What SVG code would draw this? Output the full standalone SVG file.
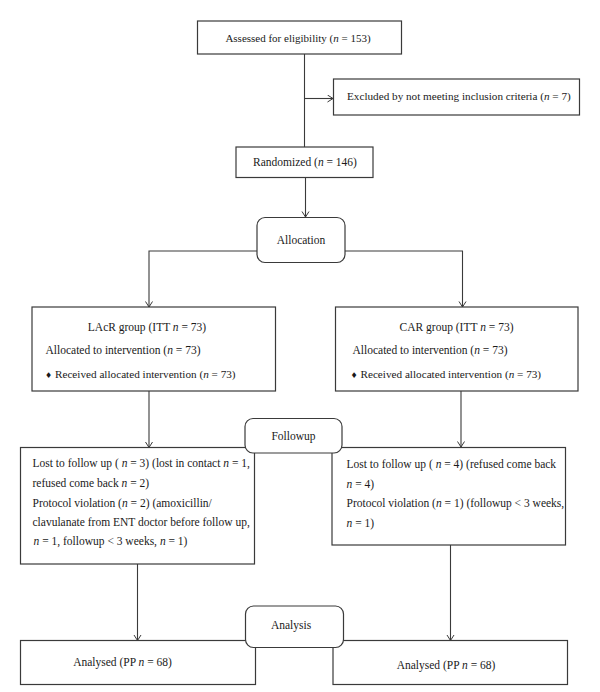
<svg xmlns="http://www.w3.org/2000/svg" width="600" height="692" viewBox="0 0 600 692">
<style>
.box{fill:#fff;stroke:#3a3a3a;stroke-width:1.2}
.rbox{fill:#fff;stroke:#3a3a3a;stroke-width:1.2}
.c{fill:none;stroke:#3a3a3a;stroke-width:1.1;marker-end:url(#ah)}
.cl{fill:none;stroke:#3a3a3a;stroke-width:1.1}
text{font-family:"Liberation Serif","Times New Roman",serif;font-size:11.5px;fill:#1a1a1a}
.m{text-anchor:middle}
.i{font-style:italic}
.d{font-family:"DejaVu Sans",sans-serif;font-size:8px}
.s{font-size:11px}
.s2{font-size:11.2px}
</style>
<defs>
<marker id="ah" markerUnits="userSpaceOnUse" markerWidth="10" markerHeight="10" refX="6" refY="4" orient="auto">
<path d="M0.5,0.5 L6,4 L0.5,7.5" fill="none" stroke="#3a3a3a" stroke-width="1"/>
</marker>
</defs>
<g id="connectors">
<line class="cl" x1="304.5" y1="54" x2="304.5" y2="147"/>
<line class="c" x1="304.5" y1="98.5" x2="333" y2="98.5"/>
<line class="c" x1="305.5" y1="177" x2="305.5" y2="217"/>
<polyline class="c" points="257,251 149,251 149,307"/>
<polyline class="c" points="345,251 462.5,251 462.5,307"/>
<line class="c" x1="149" y1="391" x2="149" y2="447.5"/>
<line class="c" x1="461" y1="391" x2="461" y2="447"/>
<line class="c" x1="137.5" y1="564" x2="137.5" y2="640.5"/>
<line class="c" x1="450.5" y1="545" x2="450.5" y2="640.5"/>
</g>
<g id="assessed">
<rect class="box" x="197.5" y="21" width="204" height="33"/>
<text class="m s" x="298" y="42">Assessed for eligibility (<tspan class="i">n</tspan> = 153)</text>
</g>
<g id="excluded">
<rect class="box" x="333.5" y="79" width="246" height="36"/>
<text class="s2" x="347" y="100">Excluded by not meeting inclusion criteria (<tspan class="i">n</tspan> = 7)</text>
</g>
<g id="randomized">
<rect class="box" x="236" y="147" width="137" height="30.5"/>
<text class="m" x="305" y="166">Randomized (<tspan class="i">n</tspan> = 146)</text>
</g>
<g id="allocation">
<rect class="rbox" x="257" y="217.5" width="88" height="45" rx="8"/>
<text class="m" x="301" y="243.5">Allocation</text>
</g>
<g id="lacr">
<rect class="box" x="32" y="307" width="243.5" height="84"/>
<text class="m" x="147" y="331">LAcR group (ITT <tspan class="i">n</tspan> = 73)</text>
<text x="45.5" y="354">Allocated to intervention (<tspan class="i">n</tspan> = 73)</text>
<text class="s2" x="45" y="378"><tspan class="d">♦</tspan> Received allocated intervention (<tspan class="i">n</tspan> = 73)</text>
</g>
<g id="car">
<rect class="box" x="335.5" y="307" width="242.5" height="84"/>
<text class="m" x="456.5" y="331">CAR group (ITT <tspan class="i">n</tspan> = 73)</text>
<text x="352.5" y="354">Allocated to intervention (<tspan class="i">n</tspan> = 73)</text>
<text class="s2" x="350.5" y="378"><tspan class="d">♦</tspan> Received allocated intervention (<tspan class="i">n</tspan> = 73)</text>
</g>
<g id="followup-left">
<rect class="box" x="20.5" y="447.5" width="234" height="116.5"/>
<text x="32.5" y="467">Lost to follow up ( <tspan class="i">n</tspan> = 3) (lost in contact <tspan class="i">n</tspan> = 1,</text>
<text x="32.5" y="487">refused come back  <tspan class="i">n</tspan> = 2)</text>
<text x="32.5" y="506.5">Protocol violation (<tspan class="i">n</tspan> = 2) (amoxicillin/</text>
<text x="32.5" y="526">clavulanate from ENT doctor before follow up,</text>
<text x="33.5" y="544.5"><tspan class="i">n</tspan> = 1, followup  &lt; 3 weeks, <tspan class="i">n</tspan> = 1)</text>
</g>
<g id="followup-right">
<rect class="box" x="332" y="447.5" width="233.5" height="97.5"/>
<text x="346.5" y="467.5">Lost to follow up ( <tspan class="i">n</tspan> = 4) (refused come back</text>
<text x="346.5" y="487.5"><tspan class="i">n</tspan> = 4)</text>
<text x="346.5" y="507">Protocol violation (<tspan class="i">n</tspan> = 1) (followup  &lt; 3 weeks,</text>
<text x="346.5" y="527"><tspan class="i">n</tspan> = 1)</text>
</g>
<g id="followup">
<rect class="rbox" x="245" y="418.5" width="97" height="34.5" rx="8"/>
<text class="m" x="293.5" y="440">Followup</text>
</g>
<g id="analysed-left">
<rect class="box" x="20.5" y="640.5" width="235" height="44"/>
<text class="m" x="122.5" y="665.5">Analysed (PP <tspan class="i">n</tspan> = 68)</text>
</g>
<g id="analysed-right">
<rect class="box" x="333" y="640.5" width="234.5" height="44"/>
<text class="m" x="446" y="669">Analysed (PP <tspan class="i">n</tspan> = 68)</text>
</g>
<g id="analysis">
<rect class="rbox" x="245.5" y="606" width="98" height="41.5" rx="8"/>
<text class="m" x="291" y="629">Analysis</text>
</g>
</svg>
